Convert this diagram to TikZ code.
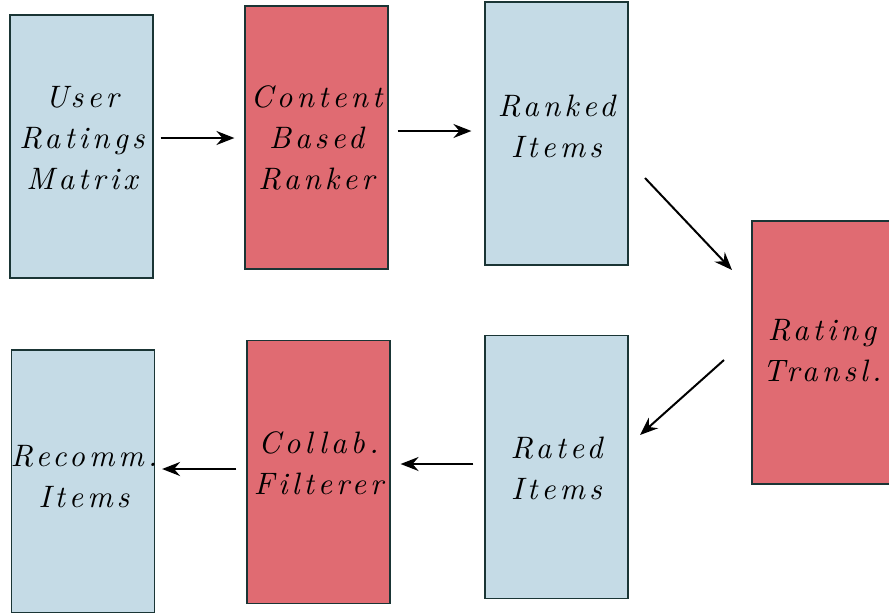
\documentclass[tikz,border=0pt]{standalone}
\usepackage{fontspec}
\newfontfamily\labfont{lmroman10-italic.otf}[LetterSpace=13]
\usetikzlibrary{arrows.meta,calc}
\definecolor{lblue}{HTML}{C5DBE6}
\definecolor{lred}{HTML}{E06B72}
\definecolor{edge}{HTML}{1A3535}
\begin{document}
\begin{tikzpicture}[x=1pt,y=-1pt,
  box/.style={draw=edge,line width=1.2pt,minimum width=143pt,minimum height=263pt,inner sep=0pt},
  bl/.style={box,fill=lblue},
  rd/.style={box,fill=lred},
  txt/.style={align=center,inner sep=0pt,font=\labfont\fontsize{31}{41}\selectfont},
  arr/.style={-{Stealth[length=18pt,width=14pt,inset=6pt]},line width=2pt,black}]
\useasboundingbox (0,0) rectangle (889,613);
\node[bl] (b1) at (81.5,146.5) {};
\node[rd] (b2) at (316.5,137.5) {};
\node[bl] (b3) at (556.5,133.5) {};
\node[rd] (b4) at (823.5,352.5) {};
\node[bl] (b5) at (556.5,467) {};
\node[rd] (b6) at (318.5,472) {};
\node[bl] (b7) at (83,481.5) {};
\node[txt] (t1) at (82,138) {User\\Ratings\\Matrix};
\node[txt] (t2) at (316.5,138) {Content\\Based\\Ranker};
\node[txt] (t3) at (556.5,126.5) {Ranked\\Items};
\node[txt] (t4) at (822,350.5) {Rating\\Transl.};
\node[txt] (t5) at (556.5,468) {Rated\\Items};
\node[txt] (t6) at (318.5,463) {Collab.\\Filterer};
\node[txt] (t7) at (84,476.5) {Recomm.\\Items};
\coordinate (d1) at (645,178);
\coordinate (d2) at (732,270);
\coordinate (d3) at (724,360);
\coordinate (d4) at (640,435);
\draw[arr] ($(b1.east)+(7,-8.5)$) -- ($(b2.west)+(-10,0.5)$);
\draw[arr] ($(b2.east)+(9,-6.5)$) -- ($(b3.west)+(-13,-2.5)$);
\draw[arr] (d1) -- (d2);
\draw[arr] (d3) -- (d4);
\draw[arr] ($(b5.west)+(-11,-3)$) -- ($(b6.east)+(10,-8)$);
\draw[arr] ($(b6.west)+(-10,-3)$) -- ($(b7.east)+(7,-12.5)$);
\end{tikzpicture}
\end{document}
